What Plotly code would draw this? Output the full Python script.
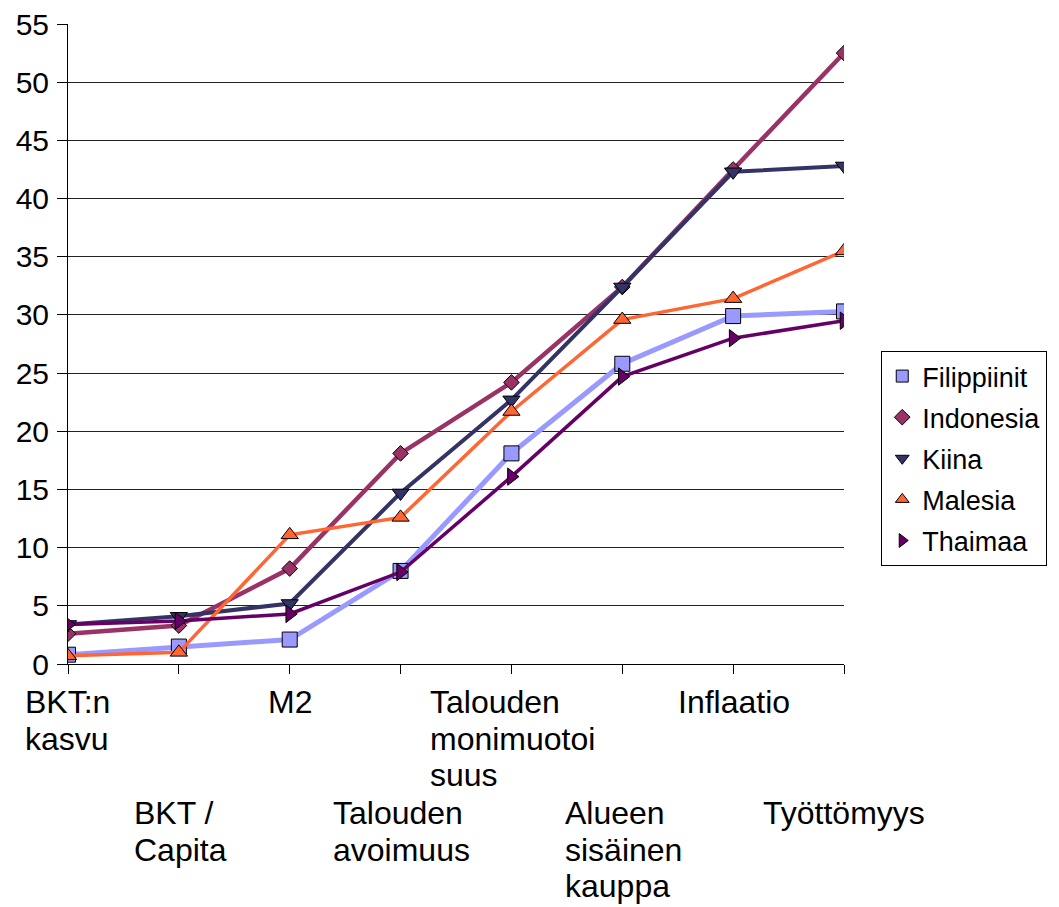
import plotly.graph_objects as go

categories = ["BKT:n kasvu", "BKT / Capita", "M2", "Talouden avoimuus",
              "Talouden monimuotoisuus", "Alueen sisäinen kauppa", "Inflaatio", "Työttömyys"]
label_lines = [["BKT:n", "kasvu"], ["BKT /", "Capita"], ["M2"], ["Talouden", "avoimuus"],
               ["Talouden", "monimuotoi", "suus"], ["Alueen", "sisäinen", "kauppa"],
               ["Inflaatio"], ["Työttömyys"]]

filippiinit = [0.8, 1.5, 2.1, 8.0, 18.1, 25.8, 29.9, 30.3]
indonesia = [2.6, 3.3, 8.2, 18.1, 24.2, 32.4, 42.5, 52.5]
kiina = [3.4, 4.1, 5.2, 14.7, 22.7, 32.4, 42.3, 42.8]
malesia = [0.7, 1.0, 11.1, 12.6, 21.7, 29.6, 31.4, 35.5]
thaimaa = [3.4, 3.7, 4.3, 7.9, 16.1, 24.7, 28.0, 29.5]

series = [
    ("Filippiinit", filippiinit, "#9999FF", "square", 15, 5),
    ("Indonesia", indonesia, "#993366", "diamond", 12, 4.5),
    ("Kiina", kiina, "#333366", "triangle-down", 15, 4),
    ("Malesia", malesia, "#FF6633", "triangle-up", 15, 3.5),
    ("Thaimaa", thaimaa, "#660066", "triangle-right", 15, 3.5),
]

fig = go.Figure()
for name, vals, color, sym, size, lw in series:
    fig.add_trace(go.Scatter(
        x=categories, y=vals, mode="lines+markers", name=name, showlegend=False,
        line=dict(color=color, width=lw),
        marker=dict(symbol=sym, size=size, color=color, line=dict(color="black", width=1)),
    ))
for name, vals, color, sym, size, lw in series:
    fig.add_trace(go.Scatter(
        x=[None], y=[None], mode="markers", name=name, legendgroup=name,
        marker=dict(symbol=sym, size=12, color=color, line=dict(color="black", width=1)),
    ))

# approximate Arial / Liberation Sans advance widths (per 1000 em) for left-aligning wrapped labels
CW = {"B": 667, "K": 667, "T": 611, ":": 278, "n": 556, " ": 278, "k": 500, "a": 556,
      "s": 500, "v": 500, "u": 556, "/": 278, "C": 722, "p": 556, "i": 222, "t": 278,
      "M": 833, "2": 556, "l": 222, "o": 556, "e": 556, "d": 556, "m": 833, "A": 667,
      "ä": 556, "I": 278, "f": 278, "y": 500, "ö": 556}


def text_width(s, fs):
    return sum(CW.get(c, 556) for c in s) * fs / 1000.0


FS = 32
SPACING = 36.6
row_centers = [38, 149]  # px below the x axis line, first line of each row
annotations = []
for i, lines in enumerate(label_lines):
    row = i % 2
    block = max(text_width(ln, FS) for ln in lines)
    for j, ln in enumerate(lines):
        annotations.append(dict(
            x=categories[i], y=0, xref="x", yref="paper", xanchor="left", yanchor="middle",
            text=ln, showarrow=False, borderpad=0,
            font=dict(family="Liberation Sans, Arial", size=FS, color="black"),
            xshift=-block / 2,
            yshift=-(row_centers[row] + j * SPACING),
        ))

fig.update_layout(
    width=1059, height=907,
    margin=dict(l=68, r=215, t=24, b=243, autoexpand=False),
    paper_bgcolor="white", plot_bgcolor="white",
    font=dict(family="Liberation Sans, Arial", color="black"),
    annotations=annotations,
    legend=dict(x=1.048, y=0.489, xanchor="left", yanchor="top",
                bordercolor="black", borderwidth=1, bgcolor="white",
                font=dict(size=27), tracegroupgap=3, traceorder="grouped"),
    xaxis=dict(type="category", range=[0, 7], showticklabels=False, showgrid=False,
               ticks="outside", ticklen=9, tickcolor="black", showline=True,
               linecolor="black", linewidth=1, zeroline=False, automargin=False),
    yaxis=dict(range=[0, 55], dtick=5, showgrid=True, gridcolor="#222", gridwidth=1,
               ticks="outside", ticklen=10, tickcolor="black", showline=True,
               linecolor="black", linewidth=1, zeroline=False, automargin=False,
               tickfont=dict(size=30), ticklabelstandoff=2),
)
fig.write_html("out.html")
